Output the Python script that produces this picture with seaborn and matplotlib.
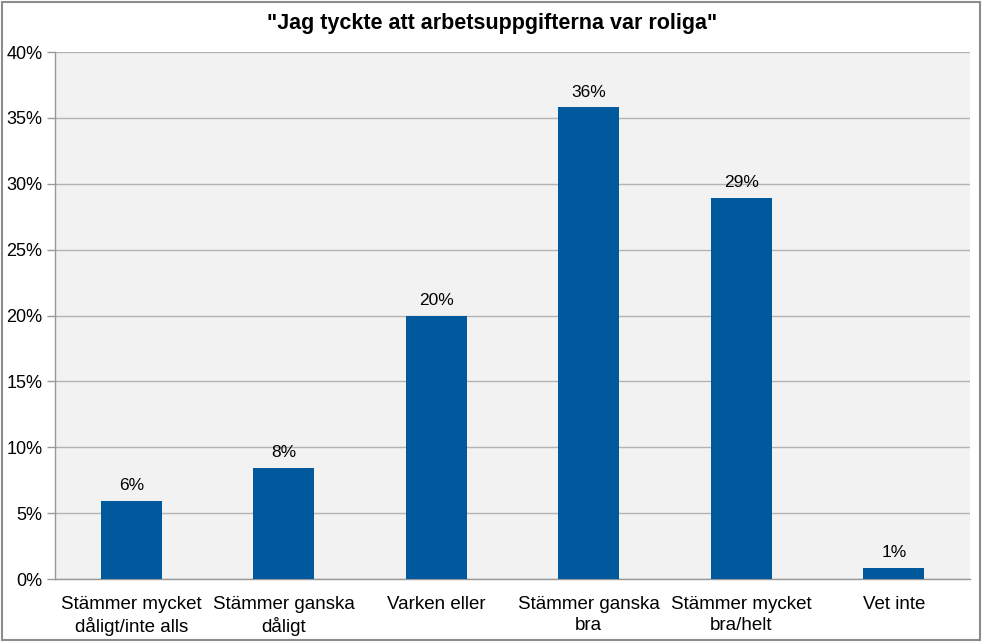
import numpy as np
import pandas as pd
import matplotlib.pyplot as plt
import seaborn as sns
from matplotlib.patches import Rectangle

# Data
categories = ["Stämmer mycket\ndåligt/inte alls", "Stämmer ganska\ndåligt", "Varken eller",
              "Stämmer ganska\nbra", "Stämmer mycket\nbra/helt", "Vet inte"]
values = [5.9, 8.4, 20.0, 35.8, 28.9, 0.85]
labels = ["6%", "8%", "20%", "36%", "29%", "1%"]

df = pd.DataFrame({"svar": categories, "andel": values})

sns.set_style("white")
plt.rcParams['font.family'] = ['Liberation Sans', 'DejaVu Sans']
plt.rcParams['text.color'] = 'black'
plt.rcParams['xtick.labelcolor'] = 'black'
plt.rcParams['ytick.labelcolor'] = 'black'

fig = plt.figure(figsize=(9.85, 6.43), dpi=100)
ax = fig.add_axes([0.0558, 0.0995, 0.929, 0.8195])

sns.barplot(data=df, x="svar", y="andel", color="#00599c", width=0.4, saturation=1,
            edgecolor="none", linewidth=0, ax=ax, zorder=3)

ax.set_facecolor("#f2f2f2")
ax.set_ylim(0, 40)
ax.set_xlim(-0.5, len(categories) - 0.5)
ax.set_yticks(np.arange(0, 41, 5))
ax.set_yticklabels([f"{t}%" for t in range(0, 41, 5)], fontsize=13)
ax.set_xticklabels(categories, fontsize=13.5, linespacing=1.3)
ax.grid(axis="y", color="#b3b3b3", linewidth=1, zorder=0)
ax.set_xlabel("")
ax.set_ylabel("")

# separators between categories on x axis
ax.set_xticks(np.arange(-0.5, len(categories), 1), minor=True)
ax.tick_params(axis="x", which="major", length=0, pad=12)
ax.tick_params(axis="x", which="minor", length=6, color="#999999", width=1, direction="out")
ax.tick_params(axis="y", length=6, color="#999999", width=1, direction="out", left=True, pad=3)

for s in ["top", "right"]:
    ax.spines[s].set_visible(False)
for s in ["left", "bottom"]:
    ax.spines[s].set_color("#999999")
    ax.spines[s].set_linewidth(1)

for p, lab in zip(ax.patches, labels):
    ax.text(p.get_x() + p.get_width() / 2, p.get_height() + 0.6, lab,
            ha="center", va="bottom", fontsize=12.5)

fig.text(0.5, 0.964, "\"Jag tyckte att arbetsuppgifterna var roliga\"", ha="center", va="center",
         fontsize=15.5, fontweight="bold")

# outer border
fig.patches.append(Rectangle((0.002, 0.004), 0.993, 0.993, transform=fig.transFigure,
                             fill=False, edgecolor="#8c8c8c", linewidth=1.5))

fig.savefig("out.png", dpi=100)
